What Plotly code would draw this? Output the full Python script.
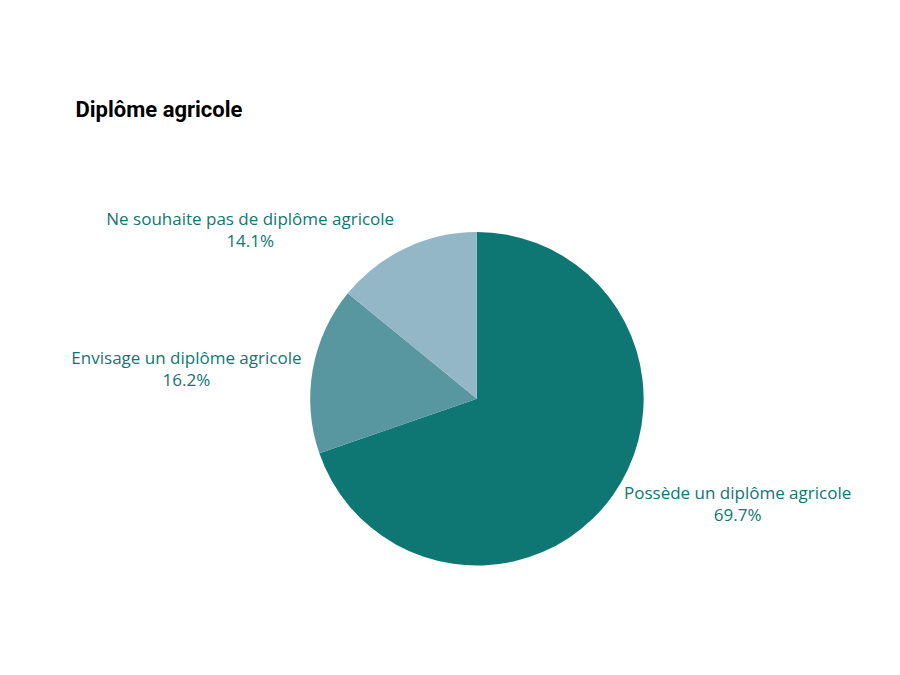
import plotly.graph_objects as go

labels = ["Possède un diplôme agricole", "Envisage un diplôme agricole", "Ne souhaite pas de diplôme agricole"]
values = [69.7, 16.2, 14.1]
colors = ["#0e7774", "#5896a0", "#93b7c6"]

fig = go.Figure(go.Pie(
    labels=labels, values=values, sort=False, direction="clockwise", rotation=0,
    marker=dict(colors=colors),
    textinfo="label+percent", textposition="outside",
    texttemplate="%{label}<br>%{percent:.1%}",
    textfont=dict(family="Open Sans, Liberation Sans, sans-serif", size=17, color="#0e7774"),
    domain=dict(x=[0.335, 0.707], y=[0.174, 0.668]),
    showlegend=False, hoverinfo="skip",
))
fig.update_layout(
    width=900, height=675, margin=dict(l=0, r=0, t=0, b=0),
    paper_bgcolor="white",
    title=dict(text="<b>Diplôme agricole</b>", x=0.075, xanchor="left", y=0.85, yanchor="middle",
               font=dict(family="Roboto", size=22, color="black")),
)
fig.write_html("out.html")
